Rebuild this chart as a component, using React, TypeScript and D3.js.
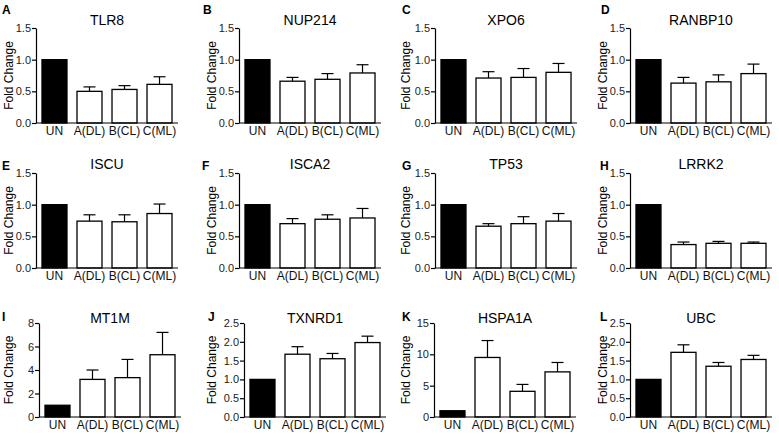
import React, { useEffect, useRef } from 'react';
import * as d3 from 'd3';

// treatment groups on every x axis
const groups = ['UN', 'A(DL)', 'B(CL)', 'C(ML)'];

// one entry per panel, reading order
const letters = ['A', 'B', 'C', 'D', 'E', 'F', 'G', 'H', 'I', 'J', 'K', 'L'];
const genes = ['TLR8', 'NUP214', 'XPO6', 'RANBP10', 'ISCU', 'ISCA2', 'TP53', 'LRRK2', 'MT1M', 'TXNRD1', 'HSPA1A', 'UBC'];

// mean fold change per group
const means = [
  [1, 0.5, 0.53, 0.61],
  [1, 0.66, 0.69, 0.79],
  [1, 0.71, 0.72, 0.8],
  [1, 0.63, 0.65, 0.78],
  [1, 0.74, 0.73, 0.86],
  [1, 0.7, 0.77, 0.79],
  [1, 0.66, 0.7, 0.74],
  [1, 0.37, 0.39, 0.39],
  [1, 3.2, 3.35, 5.3],
  [1, 1.67, 1.55, 1.98],
  [1, 9.5, 4.1, 7.2],
  [1, 1.72, 1.35, 1.53],
];

// upper error (SEM)
const errors = [
  [0, 0.07, 0.06, 0.12],
  [0, 0.06, 0.09, 0.13],
  [0, 0.1, 0.14, 0.14],
  [0, 0.09, 0.11, 0.15],
  [0, 0.1, 0.11, 0.15],
  [0, 0.08, 0.07, 0.15],
  [0, 0.04, 0.11, 0.12],
  [0, 0.04, 0.03, 0.02],
  [0, 0.8, 1.55, 1.9],
  [0, 0.2, 0.14, 0.17],
  [0, 2.7, 1.1, 1.5],
  [0, 0.2, 0.1, 0.11],
];

const yMax = [1.5, 1.5, 1.5, 1.5, 1.5, 1.5, 1.5, 1.5, 8, 2.5, 15, 2.5];
const yTicks = [
  [0, 0.5, 1, 1.5], [0, 0.5, 1, 1.5], [0, 0.5, 1, 1.5], [0, 0.5, 1, 1.5],
  [0, 0.5, 1, 1.5], [0, 0.5, 1, 1.5], [0, 0.5, 1, 1.5], [0, 0.5, 1, 1.5],
  [0, 2, 4, 6, 8], [0, 0.5, 1, 1.5, 2, 2.5], [0, 5, 10, 15], [0, 0.5, 1, 1.5, 2, 2.5],
];

// layout
const axisX = [36, 239, 435, 630, 36, 239, 435, 630, 39, 244, 434, 630];
const labelX = [9, 212, 406, 603, 9, 212, 406, 603, 9, 212, 406, 603];
const letterX = [2, 203, 402, 601, 2, 202, 402, 600, 2, 208, 402, 600];
const rowTop = [28, 173, 323];
const rowBottom = [123, 268, 417];
const rowLetterY = [14, 170, 321];
const rowTitleY = [25, 169, 323];
const plotWidth = 142;

const FONT = "'Liberation Sans', Arial, Helvetica, sans-serif";

export default function App() {
  const ref = useRef<SVGSVGElement>(null);

  useEffect(() => {
    const svg = d3.select(ref.current);
    svg.selectAll('*').remove();

    genes.forEach((gene, i) => {
      const row = Math.floor(i / 4);
      const x0 = axisX[i];
      const x = d3.scaleBand<string>()
        .domain(groups)
        .range([x0, x0 + plotWidth])
        .paddingInner(0.286)
        .paddingOuter(0.171);
      const y = d3.scaleLinear()
        .domain([0, yMax[i]])
        .range([rowBottom[row], rowTop[row]]);
      const fmt = yMax[i] > 5 ? d3.format('d') : d3.format('.1f');

      const g = svg.append('g');

      // panel letter and title
      g.append('text')
        .attr('x', letterX[i])
        .attr('y', rowLetterY[row])
        .attr('font-weight', 'bold')
        .attr('font-size', 12)
        .text(letters[i]);
      g.append('text')
        .attr('x', x0 + plotWidth / 2)
        .attr('y', rowTitleY[row])
        .attr('text-anchor', 'middle')
        .attr('font-size', 14)
        .text(gene);

      // y axis
      const yAxis = g.append('g')
        .attr('transform', `translate(${x0},0)`)
        .call(d3.axisLeft(y).tickValues(yTicks[i]).tickFormat(fmt as any).tickSize(4).tickSizeOuter(0));
      yAxis.select('.domain').attr('stroke-width', 1.2);
      yAxis.selectAll('line').attr('stroke-width', 1.2);
      yAxis.selectAll('text')
        .attr('font-size', 11)
        .attr('font-family', FONT)
        .attr('fill', '#222')
        .attr('x', -5);

      g.append('text')
        .attr('transform', `translate(${labelX[i]},${(rowTop[row] + rowBottom[row]) / 2}) rotate(-90)`)
        .attr('text-anchor', 'middle')
        .attr('dominant-baseline', 'central')
        .attr('font-size', 12)
        .text('Fold Change');

      // bars
      g.append('g').selectAll('rect')
        .data(groups)
        .enter().append('rect')
        .attr('x', (d) => x(d) as number)
        .attr('width', x.bandwidth())
        .attr('y', (d, j) => y(means[i][j]))
        .attr('height', (d, j) => rowBottom[row] - y(means[i][j]))
        .attr('fill', (d, j) => (j === 0 ? '#000' : '#fff'))
        .attr('stroke', '#000')
        .attr('stroke-width', 1.3);

      // error bars (upper only)
      const eb = g.append('g').selectAll('g')
        .data(groups.filter((d, j) => errors[i][j] > 0))
        .enter().append('g');
      eb.append('line')
        .attr('x1', (d) => (x(d) as number) + x.bandwidth() / 2)
        .attr('x2', (d) => (x(d) as number) + x.bandwidth() / 2)
        .attr('y1', (d) => y(means[i][groups.indexOf(d)]))
        .attr('y2', (d) => y(means[i][groups.indexOf(d)] + errors[i][groups.indexOf(d)]))
        .attr('stroke', '#000')
        .attr('stroke-width', 1.2);
      eb.append('line')
        .attr('x1', (d) => (x(d) as number) + x.bandwidth() / 2 - 6)
        .attr('x2', (d) => (x(d) as number) + x.bandwidth() / 2 + 6)
        .attr('y1', (d) => y(means[i][groups.indexOf(d)] + errors[i][groups.indexOf(d)]))
        .attr('y2', (d) => y(means[i][groups.indexOf(d)] + errors[i][groups.indexOf(d)]))
        .attr('stroke', '#000')
        .attr('stroke-width', 1.2);

      // x axis
      const xAxis = g.append('g')
        .attr('transform', `translate(0,${rowBottom[row]})`)
        .call(d3.axisBottom(x).tickSize(0).tickSizeOuter(0).tickPadding(3));
      xAxis.select('.domain')
        .attr('d', `M${x0},0H${x0 + plotWidth}`)
        .attr('stroke-width', 1.2);
      xAxis.selectAll('text')
        .attr('font-size', 12)
        .attr('font-family', FONT)
        .attr('fill', '#111');
    });
  }, []);

  return (
    <div style={{ position: 'absolute', left: 0, top: 0 }}>
      <svg ref={ref} width={779} height={434} style={{ display: 'block', background: '#fff', fontFamily: FONT }} />
    </div>
  );
}
